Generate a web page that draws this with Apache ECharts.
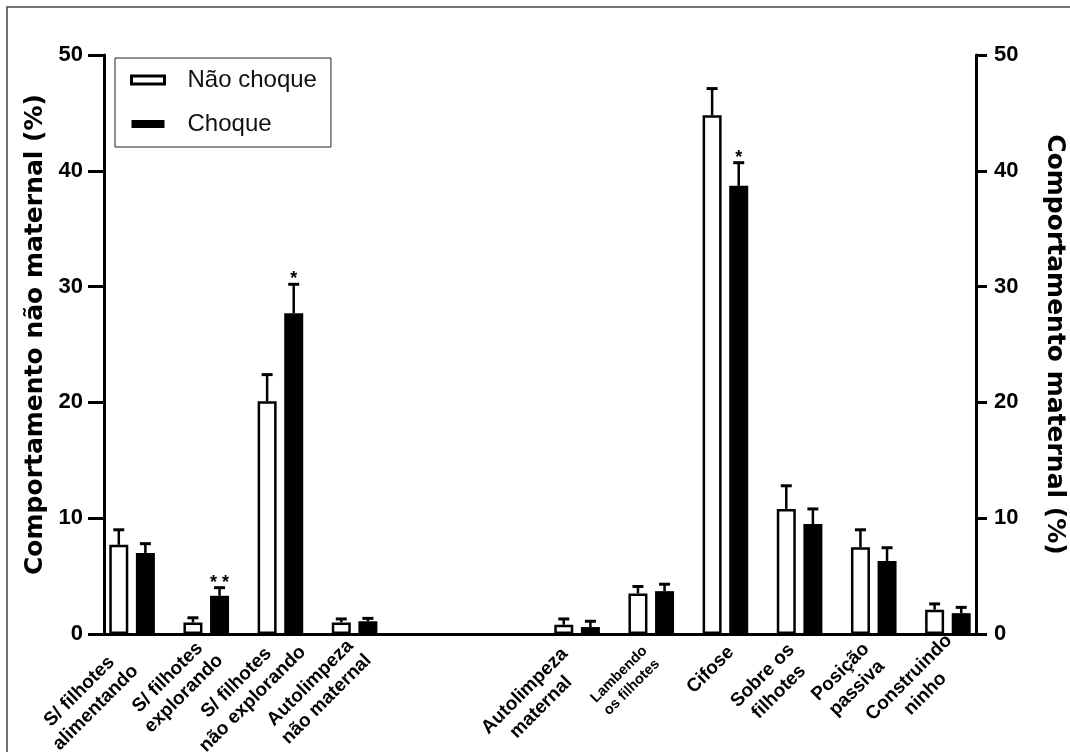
<!DOCTYPE html>
<html><head><meta charset="utf-8">
<script src="https://cdn.jsdelivr.net/npm/echarts@6/dist/echarts.min.js"></script>
<style>html,body{margin:0;padding:0;background:#fff}#c{width:1070px;height:752px}</style>
</head><body><div id="c"></div>
<script>
// ---- data ----
const categories = ['S/ filhotes\nalimentando', 'S/ filhotes\nexplorando', 'S/ filhotes\nnão explorando', 'Autolimpeza\nnão maternal', '', '', 'Autolimpeza\nmaternal', 'Lambendo\nos filhotes', 'Cifose', 'Sobre os\nfilhotes', 'Posição\npassiva', 'Construindo\nninho'];
const seriesNames = ['Não choque', 'Choque'];
const naoChoque    = [7.7, 1.0, 20.1, 1.0, null, null, 0.8, 3.5, 44.8, 10.8, 7.5, 2.1];
const naoChoqueErr = [1.3, 0.4, 2.3, 0.3, null, null, 0.5, 0.6, 2.3, 2.0, 1.5, 0.5];
const choque       = [7.0, 3.3, 27.7, 1.1, null, null, 0.6, 3.7, 38.7, 9.5, 6.3, 1.8];
const choqueErr    = [0.8, 0.7, 2.5, 0.25, null, null, 0.5, 0.6, 2.0, 1.3, 1.15, 0.5];
const choqueStars  = ['', '**', '*', '', '', '', '', '', '*', '', '', ''];
const yTicks = { min: 0, max: 50, interval: 10 };
const leftAxisName = 'Comportamento não maternal (%)';
const rightAxisName = 'Comportamento maternal (%)';

// ---- styles ----
const FONT = 'Liberation Sans';
const NAME_FONT = 'DejaVu Sans';
const BAR_W = 19, BAR_GAP = 0.4;
const half = BAR_W * (1 + BAR_GAP) / 2;
// per-label nudge along the rotated text direction (px, positive = up-right)
const labelNudge = [-7, 8, 20, 8, 0, 0, -6, 0, 8, 0, 1, 13];

function errSeries(name, means, errs, stars, side) {
  const data = [];
  means.forEach((m, i) => { if (m != null) data.push([i, m, errs[i]]); });
  return {
    type: 'custom', name: name + ' err', xAxisIndex: 0, yAxisIndex: 0, z: 5, silent: true,
    renderItem(params, api) {
      const i = api.value(0), m = api.value(1), e = api.value(2);
      const p0 = api.coord([i, m]);
      const p1 = api.coord([i, m + e]);
      const x = p0[0] + side * half;
      const children = [
        { type: 'line', shape: { x1: x, y1: p0[1], x2: x, y2: p1[1] }, style: { stroke: '#000', lineWidth: 2.5 } },
        { type: 'line', shape: { x1: x - 5.5, y1: p1[1], x2: x + 5.5, y2: p1[1] }, style: { stroke: '#000', lineWidth: 3 } }
      ];
      const s = stars ? stars[i] : '';
      if (s) children.push({ type: 'text', style: { text: s.split('').join(' '), x: x, y: p1[1] + 4, align: 'center', verticalAlign: 'bottom', font: 'bold 18px "' + FONT + '"', fill: '#000' } });
      return { type: 'group', children };
    },
    encode: { x: 0, y: 1 },
    data
  };
}

const labelRich = {
  c: { align: 'center', fontSize: 19, fontWeight: 'bold', fontFamily: FONT, color: '#000', lineHeight: 23 },
  s: { align: 'center', fontSize: 14.5, fontWeight: 'bold', fontFamily: FONT, color: '#000', lineHeight: 18 }
};

function yAxisCfg(pos, name, offset, gap, rot, margin, tickLen, namePad) {
  return {
    type: 'value', position: pos, min: yTicks.min, max: yTicks.max, interval: yTicks.interval,
    offset: offset,
    name: name, nameLocation: 'middle', nameGap: gap, nameRotate: rot,
    nameTextStyle: { fontSize: 25, fontWeight: 'bold', fontFamily: NAME_FONT, color: '#000', padding: namePad },
    axisLine: { show: true, lineStyle: { color: '#000', width: 3 } },
    axisTick: { show: true, length: tickLen, lineStyle: { color: '#000', width: 3 } },
    axisLabel: { margin: margin, fontSize: 22, fontWeight: 'bold', color: '#000', fontFamily: FONT },
    splitLine: { show: false }
  };
}

const xData = categories.map((c, i) => ({ value: c, textStyle: { padding: [0, -labelNudge[i], 0, 0] } }));

const chart = echarts.init(document.getElementById('c'));
chart.setOption({
  backgroundColor: '#fff',
  animation: false,
  grid: { left: 95, right: 85, top: 55, bottom: 118, containLabel: false, outerBoundsMode: 'none' },
  graphic: [{ type: 'rect', silent: true, shape: { x: 7, y: 7, width: 1080, height: 770 }, style: { fill: 'none', stroke: '#444', lineWidth: 1.5 } }],
  legend: {
    data: [
      { name: seriesNames[0], itemStyle: { color: '#fff', borderColor: '#000', borderWidth: 3 } },
      { name: seriesNames[1], itemStyle: { color: '#000' } }
    ],
    orient: 'vertical', left: 115, top: 58,
    icon: 'rect', itemWidth: 33, itemHeight: 8, itemGap: 20,
    padding: [10, 14, 11, 15],
    borderColor: '#222', borderWidth: 1, borderRadius: 0,
    textStyle: { fontSize: 24, fontFamily: FONT, color: '#111', padding: [0, 0, 0, 18] }
  },
  xAxis: {
    type: 'category', data: xData,
    axisLine: { lineStyle: { color: '#000', width: 3 } },
    axisTick: { show: false },
    axisLabel: {
      interval: 0, rotate: 45, margin: 21,
      formatter: (v) => v ? v.split('\n').map(l => '{' + (v.indexOf('Lambendo') === 0 ? 's' : 'c') + '|' + l + '}').join('\n') : '',
      rich: labelRich
    }
  },
  yAxis: [
    yAxisCfg('left', leftAxisName, -9, 54, 90, 21, 16, [0, 0, 0, 20]),
    yAxisCfg('right', rightAxisName, -9, 66, -90, 18, 11, [0, 0, 0, 0])
  ],
  series: [
    { type: 'bar', name: seriesNames[0], data: naoChoque, barWidth: BAR_W, barGap: (BAR_GAP * 100) + '%',
      itemStyle: { color: '#fff', borderColor: '#000', borderWidth: 2.5 } },
    { type: 'bar', name: seriesNames[1], data: choque, barWidth: BAR_W,
      itemStyle: { color: '#000', borderColor: '#000', borderWidth: 0 } },
    errSeries(seriesNames[0], naoChoque, naoChoqueErr, null, -1),
    errSeries(seriesNames[1], choque, choqueErr, choqueStars, 1)
  ]
});
</script></body></html>
